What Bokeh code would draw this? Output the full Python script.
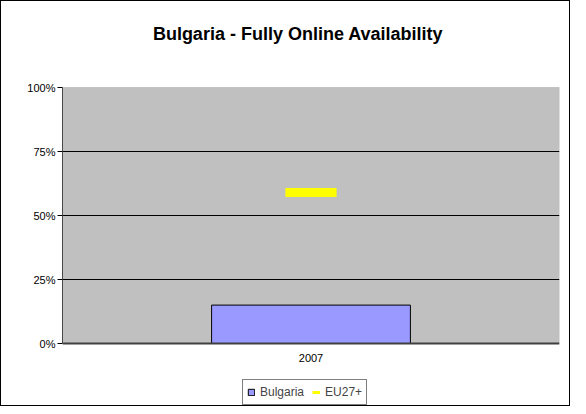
from bokeh.plotting import figure
from bokeh.models import (FactorRange, Range1d, FixedTicker, Legend, LegendItem,
                          ColumnDataSource, BoxAnnotation, Span, Label)
from bokeh.core.properties import value
from bokeh.embed import file_html
from bokeh.resources import INLINE

title = "Bulgaria - Fully Online Availability"
categories = ["2007"]
bulgaria = [15]
eu27 = [59]
y_ticks = [0, 25, 50, 75, 100]
y_tick_labels = ["0%", "25%", "50%", "75%", "100%"]

FONT = "Liberation Sans"

# layout geometry (pixels)
W, H = 570, 406
TOP, LEFT, RIGHT, BOTTOM = 1, 61, 12, 1
PLOT_TOP_PX = 86          # where 100 % sits below the figure top
axis_px = 256.0           # pixels spanned by 0..100 %
frame_h = H - TOP - BOTTOM
px_per_unit = axis_px / 100.0
y_high = 100 + (PLOT_TOP_PX - TOP) / px_per_unit
y_low = y_high - frame_h / px_per_unit

p = figure(width=W, height=H, output_backend="svg", toolbar_location=None,
           x_range=FactorRange(*categories), y_range=Range1d(y_low, y_high),
           x_axis_location=None,
           min_border_left=LEFT, min_border_right=RIGHT,
           min_border_top=TOP, min_border_bottom=BOTTOM)
p.styles = {"border": "1px solid black"}
p.background_fill_color = "white"
p.border_fill_color = "white"
p.outline_line_color = None

# grey plot area (drawn beneath the gridlines)
p.add_layout(BoxAnnotation(bottom=0, top=100, fill_color="#C0C0C0", fill_alpha=1,
                           line_color=None, level="image"))
# plot-area border
p.add_layout(BoxAnnotation(bottom=0, top=100, fill_alpha=0,
                           line_color="#808080", line_width=1))

# chart title
p.add_layout(Label(x=0.474, y=100 + (87 - 33) / px_per_unit, text=title,
                   text_align="center", text_baseline="middle",
                   text_font=FONT, text_font_size="18px", text_font_style="bold",
                   text_color="black"))

src = ColumnDataSource(dict(cat=categories, bg=bulgaria, eu=eu27,
                            zero=[0] * len(categories)))
bars = p.vbar(x="cat", top="bg", bottom=0, width=0.4, source=src,
              fill_color="#9999FF", line_color="black", line_width=1)
p.rect(x="cat", y="eu", width=0.103, height=9, height_units="screen", source=src,
       fill_color="#FFFF00", line_color=None)
eu_leg = p.line(x="cat", y="eu", source=src, line_color="#FFFF00", line_width=3)

# category axis labels
p.text(x="cat", y="zero", text="cat", source=src, y_offset=14,
       text_align="center", text_baseline="middle",
       text_font=value(FONT), text_font_size="11px", text_color="black")

# category axis baseline
p.add_layout(Span(location=0, dimension="width", line_color="#404040", line_width=2))

p.xgrid.grid_line_color = None
p.ygrid.ticker = FixedTicker(ticks=[25, 50, 75])
p.ygrid.grid_line_color = "black"
p.ygrid.grid_line_width = 1

ya = p.yaxis[0]
ya.ticker = FixedTicker(ticks=y_ticks)
ya.bounds = (0, 100)
ya.major_label_overrides = {t: l for t, l in zip(y_ticks, y_tick_labels)}
ya.major_label_text_font = FONT
ya.major_label_text_font_size = "11px"
ya.major_label_text_color = "black"
ya.major_tick_in = 0
ya.major_tick_out = 5
ya.major_tick_line_color = "black"
ya.minor_tick_line_color = None
ya.axis_line_color = "#404040"
ya.major_label_standoff = 2

legend = Legend(items=[LegendItem(label="Bulgaria", renderers=[bars]),
                       LegendItem(label="EU27+", renderers=[eu_leg])],
                orientation="horizontal", location=(180, 1),
                label_text_font=FONT, label_text_font_size="12px",
                glyph_width=8, glyph_height=8, label_standoff=5, spacing=8,
                padding=4, margin=0, border_line_color="black",
                label_height=16, background_fill_alpha=1)
p.add_layout(legend, "center")

open("out.html", "w").write(file_html(p, INLINE))
